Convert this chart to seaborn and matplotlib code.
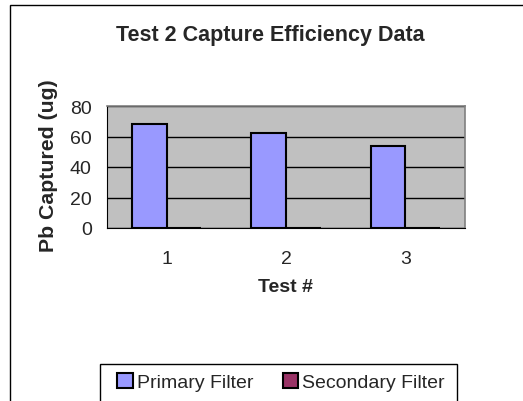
import pandas as pd
import matplotlib
matplotlib.use("Agg")
import matplotlib.pyplot as plt
from matplotlib.patches import Rectangle, Patch
import seaborn as sns

tests = ["1", "2", "3"]
primary = [68, 62.5, 54]
secondary = [0, 0, 0]
series = ["Primary Filter", "Secondary Filter"]
colors = ["#9999FF", "#993366"]

df = pd.DataFrame({
    "Test #": tests * 2,
    "Filter": [series[0]] * 3 + [series[1]] * 3,
    "Pb": primary + secondary,
})

sns.set_style("white")
plt.rcParams["font.family"] = ["Liberation Sans", "DejaVu Sans"]

fig = plt.figure(figsize=(5.23, 4.02), dpi=100)
ax = fig.add_axes([107 / 523, 1 - 229 / 402, 358 / 523, 122 / 402])

sns.barplot(data=df, x="Test #", y="Pb", hue="Filter", palette=colors,
            saturation=1, width=0.58, edgecolor="black", linewidth=1.5,
            ax=ax, legend=False, zorder=3)

ax.set_facecolor("#C0C0C0")
ax.set_ylim(0, 80)
ax.set_xlim(-0.5, 2.5)
ax.set_yticks([0, 20, 40, 60, 80])
ax.yaxis.grid(True, color="black", linewidth=1)
ax.set_axisbelow(True)

# Excel-style category axis: ticks between categories, labels in the middle
ax.set_xticks([-0.5, 0.5, 1.5, 2.5])
ax.set_xticklabels([])
ax.set_xticks([0, 1, 2], minor=True)
ax.set_xticklabels(tests, minor=True)
ax.tick_params(axis="x", which="major", length=5, width=1, color="black", direction="out")
ax.tick_params(axis="x", which="minor", length=0, pad=16, labelsize=14)
ax.tick_params(axis="y", length=5, width=1, color="black", direction="out",
               labelsize=14, pad=6)

for side in ["top", "right"]:
    ax.spines[side].set_color("#808080")
    ax.spines[side].set_linewidth(1.2)
ax.spines["left"].set_color("black")
ax.spines["bottom"].set_color("black")

ax.set_xlabel("Test #", fontsize=14, fontweight="bold", labelpad=8)
ax.set_ylabel("Pb Captured (ug)", fontsize=15.3, fontweight="bold")
ax.yaxis.set_label_coords(-0.137, 0.516)

fig.text(270 / 523, 1 - 35 / 402, "Test 2 Capture Efficiency Data",
         ha="center", va="center", fontsize=15.5, fontweight="bold")

# outer chart border (runs off the right and bottom edges)
fig.patches.append(Rectangle((10 / 523, -0.1), 1.1, 1.1 - 6 / 402,
                             transform=fig.transFigure, fill=False,
                             edgecolor="black", linewidth=1, clip_on=False))

# legend box
fig.patches.append(Rectangle((100 / 523, -0.1), 357 / 523, 0.1 + 1 - 365 / 402,
                             transform=fig.transFigure, fill=False,
                             edgecolor="black", linewidth=1, clip_on=False))
handles = [Patch(facecolor=c, edgecolor="black", linewidth=1.5) for c in colors]
fig.legend(handles, series, loc="center", bbox_to_anchor=(281 / 523, 1 - 383 / 402),
           ncol=2, frameon=False, fontsize=14, handlelength=0.8, handleheight=0.8,
           handletextpad=0.2, columnspacing=1.5)

fig.savefig("out.png", dpi=100)
